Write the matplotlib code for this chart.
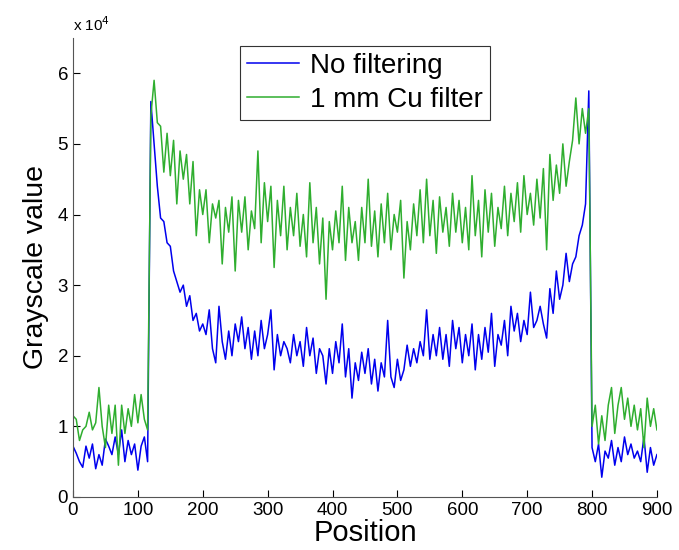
import numpy as np
import matplotlib.pyplot as plt

plt.rcParams['font.family'] = ['Liberation Sans', 'DejaVu Sans']

# position along the profile, step of 5
position = np.arange(0, 905, 5)

# grayscale values (x 10^4)
no_filter = [
    0.72, 0.62, 0.50, 0.42, 0.72, 0.55, 0.75, 0.40, 0.60, 0.45,
    0.82, 0.72, 0.60, 0.85, 0.60, 0.95, 0.50, 0.80, 0.60, 0.75,
    0.38, 0.72, 0.85, 0.50, 5.60, 5.00, 4.40, 3.95, 3.90, 3.60,
    3.55, 3.20, 3.05, 2.90, 3.00, 2.70, 2.85, 2.50, 2.60, 2.35,
    2.45, 2.30, 2.65, 2.10, 1.90, 2.70, 2.20, 1.95, 2.35, 2.00,
    2.45, 2.20, 2.55, 2.10, 2.40, 1.95, 2.35, 2.00, 2.50, 2.10,
    2.30, 2.65, 1.80, 2.30, 2.00, 2.20, 2.10, 1.90, 2.30, 2.00,
    2.20, 1.85, 2.40, 2.00, 2.25, 1.75, 2.10, 2.00, 1.60, 2.10,
    1.75, 2.20, 1.90, 2.45, 1.70, 2.10, 1.40, 1.90, 1.65, 2.05,
    1.75, 2.10, 1.60, 1.95, 1.50, 1.90, 1.70, 2.50, 1.70, 1.55,
    1.95, 1.65, 1.80, 2.15, 1.85, 2.10, 1.90, 2.20, 2.00, 2.65,
    1.95, 2.30, 2.00, 2.40, 1.95, 2.30, 1.85, 2.50, 2.10, 2.40,
    1.90, 2.30, 2.00, 2.45, 1.80, 2.30, 1.95, 2.40, 2.05, 2.60,
    1.85, 2.30, 2.15, 2.50, 2.00, 2.70, 2.35, 2.60, 2.20, 2.50,
    2.30, 2.90, 2.40, 2.50, 2.70, 2.45, 2.25, 2.95, 2.60, 3.20,
    2.80, 3.00, 3.45, 3.05, 3.30, 3.40, 3.70, 3.85, 4.15, 5.75,
    0.70, 0.50, 0.75, 0.28, 0.65, 0.55, 0.80, 0.45, 0.70, 0.50,
    0.85, 0.60, 0.75, 0.55, 0.65, 0.50, 0.85, 0.35, 0.70, 0.45,
    0.60,
]

cu_filter = [
    1.15, 1.10, 0.80, 0.95, 1.00, 1.20, 0.95, 1.05, 1.55, 1.00,
    0.70, 1.30, 0.90, 1.30, 0.45, 1.30, 0.90, 1.25, 1.00, 1.45,
    1.05, 1.45, 1.10, 0.95, 5.40, 5.90, 5.30, 5.25, 4.60, 5.15,
    4.55, 5.05, 4.15, 4.90, 4.50, 4.85, 4.15, 4.75, 3.70, 4.35,
    4.00, 4.35, 3.60, 4.15, 3.95, 4.20, 3.30, 4.10, 3.75, 4.25,
    3.20, 4.20, 3.75, 4.25, 3.50, 4.05, 3.80, 4.90, 3.60, 4.45,
    3.90, 4.40, 3.25, 4.20, 3.70, 4.40, 3.50, 4.10, 3.70, 4.30,
    3.55, 4.00, 3.40, 4.45, 3.60, 4.10, 3.30, 3.95, 2.80, 3.90,
    3.50, 4.05, 3.60, 4.40, 3.35, 4.10, 3.60, 3.90, 3.35, 4.10,
    3.60, 4.50, 3.55, 4.05, 3.40, 4.15, 3.60, 4.30, 3.50, 4.00,
    3.75, 4.20, 3.10, 3.90, 3.50, 4.15, 3.70, 4.35, 3.60, 4.50,
    3.70, 4.20, 3.45, 4.25, 3.75, 4.10, 3.55, 4.30, 3.75, 4.20,
    3.60, 4.10, 3.50, 4.55, 3.70, 4.20, 3.40, 4.35, 3.75, 4.30,
    3.55, 4.10, 3.80, 4.40, 3.70, 4.30, 3.90, 4.45, 3.75, 4.55,
    4.00, 4.30, 3.85, 4.50, 3.95, 4.65, 3.50, 4.85, 4.20, 4.70,
    4.30, 5.00, 4.40, 4.75, 5.05, 5.65, 5.00, 5.50, 5.15, 5.50,
    1.00, 1.30, 0.75, 1.15, 0.80, 1.30, 1.55, 0.90, 1.30, 1.55,
    1.10, 1.40, 1.00, 1.30, 0.95, 1.25, 0.70, 1.40, 1.00, 1.25,
    0.95,
]

x_ticks = np.arange(0, 1000, 100)
y_ticks = np.arange(0, 7) * 1e4

fig = plt.figure(figsize=(6.79, 5.5), dpi=100)
ax = fig.add_axes([0.1075, 0.0964, 0.86, 0.8346])

ax.plot(position, np.array(no_filter) * 1e4, color='#0000ee', lw=1.1, label='No filtering')
ax.plot(position, np.array(cu_filter) * 1e4, color='#2fae2f', lw=1.1, label='1 mm Cu filter')

ax.set_xlim(0, 900)
ax.set_ylim(0, 6.5e4)
ax.set_xticks(x_ticks)
ax.set_yticks(y_ticks)
ax.set_yticklabels([str(int(v / 1e4)) for v in y_ticks])
ax.tick_params(direction='in', labelsize=13.5, length=5, width=0.8)

for s in ['top', 'right']:
    ax.spines[s].set_visible(False)
for s in ['left', 'bottom']:
    ax.spines[s].set_color('#555555')

ax.text(0.0, 1.015, r'x 10$^4$', transform=ax.transAxes, fontsize=11)

ax.set_xlabel('Position', fontsize=21, labelpad=0)
ax.set_ylabel('Grayscale value', fontsize=20.5, labelpad=6)

leg = ax.legend(loc='upper center', bbox_to_anchor=(0.5, 0.983), fontsize=20,
                fancybox=False, framealpha=1, edgecolor='#333333', borderaxespad=0,
                handlelength=1.9, borderpad=0.25, labelspacing=0.3, handletextpad=0.4)
leg.get_frame().set_linewidth(0.8)

fig.savefig('out.png', dpi=100)
